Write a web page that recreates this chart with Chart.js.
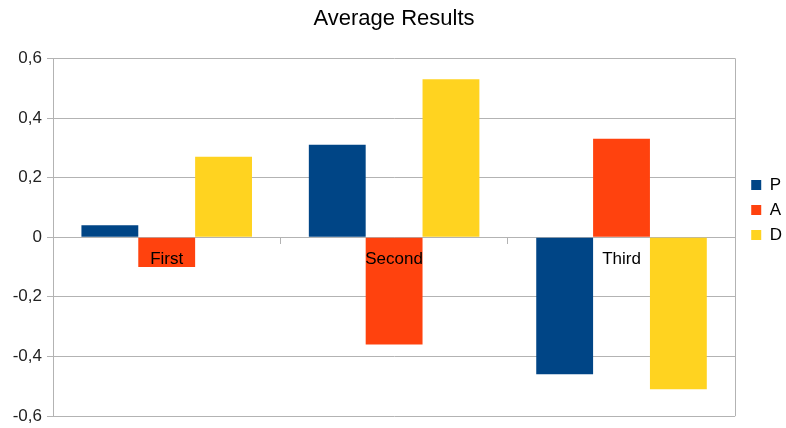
<!DOCTYPE html>
<html>
<head>
<meta charset="utf-8">
<script src="https://cdn.jsdelivr.net/npm/chart.js@4/dist/chart.umd.min.js"></script>
<style>
  html, body { margin: 0; padding: 0; background: #fff; }
  #wrap { width: 786px; height: 428px; }
</style>
</head>
<body>
<div id="wrap"><canvas id="resultsChart"></canvas></div>
<script>
// Kategorier och medelvärden per serie
const categories = ['First', 'Second', 'Third'];
const seriesNames = ['P', 'A', 'D'];
const valuesP = [0.04, 0.31, -0.46];
const valuesA = [-0.10, -0.36, 0.33];
const valuesD = [0.27, 0.53, -0.51];
const seriesColors = ['#004586', '#ff420e', '#ffd320'];

const gridColor = '#b3b3b3';
const fontFamily = 'Liberation Sans';

// Ram runt diagramytan (höger kant) och lite luft före förklaringen
const framePlugin = {
  id: 'frame',
  afterLayout(chart) {
    chart.legend.left += 8;
    chart.legend.right += 8;
    chart.legend.top += 2;
    chart.legend.bottom += 2;
  },
  afterDraw(chart) {
    const { ctx, chartArea } = chart;
    ctx.save();
    ctx.strokeStyle = gridColor;
    ctx.lineWidth = 1;
    ctx.beginPath();
    ctx.moveTo(Math.round(chartArea.right) + 0.5, chartArea.top);
    ctx.lineTo(Math.round(chartArea.right) + 0.5, chartArea.bottom);
    ctx.stroke();
    ctx.restore();
  }
};

const ctx = document.getElementById('resultsChart').getContext('2d');
const resultsChart = new Chart(ctx, {
  type: 'bar',
  data: {
    labels: categories,
    datasets: [valuesP, valuesA, valuesD].map((vals, i) => ({
      label: seriesNames[i],
      data: vals,
      backgroundColor: seriesColors[i],
      borderWidth: 0,
      categoryPercentage: 0.75,
      barPercentage: 1.0
    }))
  },
  options: {
    responsive: true,
    maintainAspectRatio: false,
    animation: false,
    layout: { padding: { left: 4, right: 2, top: 0, bottom: 12 } },
    plugins: {
      title: {
        display: true,
        text: 'Average Results',
        color: '#000',
        font: { family: fontFamily, size: 22, weight: 'normal' },
        padding: { top: 6, bottom: 26 }
      },
      legend: {
        position: 'right',
        labels: {
          color: '#000',
          font: { family: fontFamily, size: 17 },
          boxWidth: 10,
          boxHeight: 10,
          padding: 8
        }
      },
      tooltip: { enabled: false }
    },
    scales: {
      x: {
        position: { y: 0 },
        grid: {
          offset: true,
          drawOnChartArea: false,
          drawTicks: true,
          tickLength: 6,
          color: gridColor
        },
        border: { color: gridColor },
        ticks: {
          z: 1,
          color: '#000',
          padding: 6,
          font: { family: fontFamily, size: 17 }
        }
      },
      y: {
        min: -0.6,
        max: 0.6,
        afterFit(scale) {
          scale.width = 49;
          scale.paddingTop = 0;
          scale.paddingBottom = 0;
        },
        grid: { color: gridColor, tickLength: 6 },
        border: { color: gridColor },
        ticks: {
          stepSize: 0.2,
          color: '#222',
          padding: 5,
          font: { family: fontFamily, size: 17 },
          callback: v => Math.abs(v) < 1e-9 ? '0' : v.toFixed(1).replace('.', ',')
        }
      }
    }
  },
  plugins: [framePlugin]
});
</script>
</body>
</html>
